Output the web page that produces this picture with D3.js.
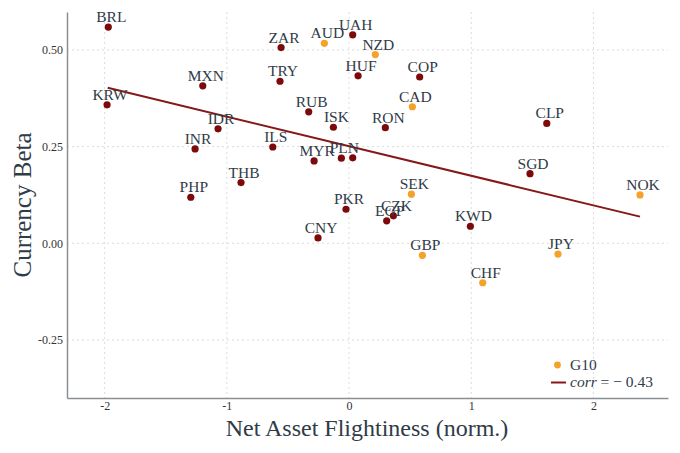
<!DOCTYPE html>
<html>
<head>
<meta charset="utf-8">
<script src="https://cdn.jsdelivr.net/npm/d3@7"></script>
<style>
  html, body { margin: 0; padding: 0; background: #fff; }
  svg { display: block; }
  text { font-family: "Liberation Serif", "DejaVu Serif", serif; }
</style>
</head>
<body>
<svg id="chart" width="680" height="453"></svg>
<script>
// ---- data ----
const codes = ["BRL","KRW","MXN","IDR","INR","PHP","THB","ILS","ZAR","TRY","AUD","UAH","RUB","ISK","MYR","PLN","","NZD","HUF","COP","CAD","RON","CLP","SGD","SEK","PKR","CNY","EGP","CZK","KWD","GBP","CHF","JPY","NOK"];
const flight = [-1.97,-1.98,-1.197,-1.072,-1.26,-1.295,-0.884,-0.624,-0.556,-0.565,-0.202,0.03,-0.33,-0.128,-0.286,-0.063,0.030,0.215,0.074,0.578,0.518,0.297,1.618,1.481,0.51,-0.025,-0.254,0.308,0.363,0.993,0.6,1.094,1.71,2.381];
const beta = [0.559,0.358,0.407,0.296,0.244,0.119,0.157,0.249,0.506,0.419,0.517,0.539,0.340,0.300,0.213,0.220,0.221,0.488,0.433,0.430,0.353,0.299,0.310,0.180,0.127,0.088,0.014,0.058,0.071,0.044,-0.031,-0.102,-0.028,0.125];
const isG10 = [0,0,0,0,0,0,0,0,0,0,1,0,0,0,0,0,0,1,0,0,1,0,0,0,1,0,0,0,0,0,1,1,1,1];
const fitX = [-1.975, 2.381];
const fitY = [0.402, 0.069];
const xTicks = [-2, -1, 0, 1, 2];
const yTicks = [-0.25, 0, 0.25, 0.5];
const xTitle = "Net Asset Flightiness (norm.)";
const yTitle = "Currency Beta";
const legendG10 = "G10";
const corrValue = "− 0.43";

// ---- layout ----
const W = 680, H = 453;
const L = 67, R = 668, T = 12, B = 398;
const svg = d3.select("#chart");

const x = d3.scaleLinear().domain([-2.308, 2.61]).range([L, R]);
const y = d3.scaleLinear().domain([-0.400, 0.598]).range([B, T]);

const textCol = "#2f3b47";
const maroon = "#7d0a0a";
const orange = "#f5a228";

// grid
const grid = svg.append("g");
grid.selectAll("line.gx").data(xTicks).join("line")
  .attr("x1", d => x(d)).attr("x2", d => x(d))
  .attr("y1", T).attr("y2", B)
  .attr("stroke", "#dcdcdc").attr("stroke-width", 1).attr("stroke-dasharray", "2,3");
grid.selectAll("line.gy").data(yTicks).join("line")
  .attr("x1", L).attr("x2", R)
  .attr("y1", d => y(d)).attr("y2", d => y(d))
  .attr("stroke", "#dcdcdc").attr("stroke-width", 1).attr("stroke-dasharray", "2,3");

// axes
const xAxis = svg.append("g").attr("transform", `translate(0,${B})`)
  .call(d3.axisBottom(x).tickValues(xTicks).tickSize(0).tickPadding(3).tickFormat(d => String(d)));
const yAxis = svg.append("g").attr("transform", `translate(${L},0)`)
  .call(d3.axisLeft(y).tickValues(yTicks).tickSize(0).tickPadding(4).tickFormat(d => d.toFixed(2)));
[xAxis, yAxis].forEach(a => {
  a.select(".domain").attr("stroke", "#8a8f94").attr("stroke-width", 1.5);
  a.selectAll("text").attr("fill", "#333").attr("font-size", "12px")
    .attr("font-family", "'Liberation Serif', serif");
});

// fit line
const lineData = fitX.map((v, i) => [v, fitY[i]]);
svg.append("path").datum(lineData)
  .attr("d", d3.line().x(d => x(d[0])).y(d => y(d[1])))
  .attr("fill", "none").attr("stroke", "#851818").attr("stroke-width", 2);

// points
const pts = codes.map((c, i) => ({c, fx: flight[i], b: beta[i], g: isG10[i]}));
svg.append("g").selectAll("circle").data(pts).join("circle")
  .attr("cx", d => x(d.fx)).attr("cy", d => y(d.b)).attr("r", 3.6)
  .attr("fill", d => d.g ? orange : maroon);

// labels
svg.append("g").selectAll("text").data(pts.filter(d => d.c)).join("text")
  .attr("x", d => x(d.fx) + 3).attr("y", d => y(d.b) - 5)
  .attr("text-anchor", "middle").attr("font-size", "15.5px").attr("fill", textCol)
  .text(d => d.c);

// axis titles
svg.append("text").attr("x", 367).attr("y", 436).attr("text-anchor", "middle")
  .attr("font-size", "24px").attr("fill", textCol).text(xTitle);
svg.append("text").attr("transform", "translate(31,205) rotate(-90)").attr("text-anchor", "middle")
  .attr("font-size", "25px").attr("fill", textCol).text(yTitle);

// legend
const lg = svg.append("g");
lg.append("circle").attr("cx", 557.5).attr("cy", 365).attr("r", 3.4).attr("fill", orange);
lg.append("text").attr("x", 570).attr("y", 370).attr("font-size", "15.5px").attr("fill", textCol).text(legendG10);
lg.append("line").attr("x1", 551).attr("x2", 566).attr("y1", 382.5).attr("y2", 382.5)
  .attr("stroke", "#851818").attr("stroke-width", 2);
const ct = lg.append("text").attr("x", 570).attr("y", 387).attr("font-size", "15.5px").attr("fill", textCol);
ct.append("tspan").attr("font-style", "italic").text("corr");
ct.append("tspan").text(" = " + corrValue);
</script>
</body>
</html>
